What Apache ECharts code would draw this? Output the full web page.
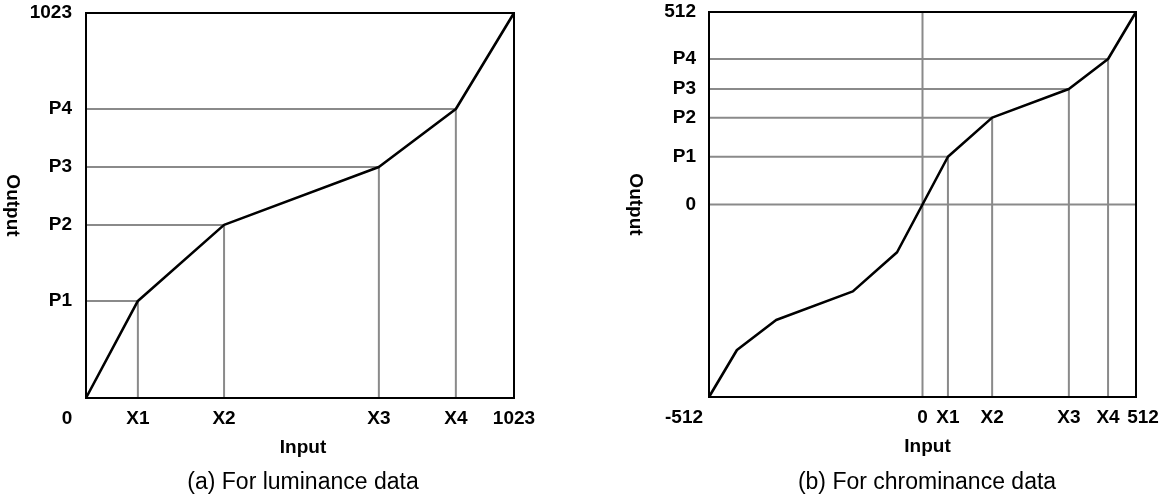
<!DOCTYPE html>
<html>
<head>
<meta charset="utf-8">
<script src="https://cdn.jsdelivr.net/npm/echarts@6/dist/echarts.min.js"></script>
<style>
html,body{margin:0;padding:0;background:#fff;}
#c{width:1173px;height:498px;}
</style>
</head>
<body>
<div id="c"></div>
<script>
// ---- Data ----
const lumaX = [0, 124, 330, 700, 884, 1023];
const lumaY = [0, 258, 460, 614, 768, 1023];
const lumaXTickValues = [0, 124, 330, 700, 884, 1023];
const lumaXTickLabels = ['0', 'X1', 'X2', 'X3', 'X4', '1023'];
const lumaYTickValues = [258, 460, 614, 768, 1023];
const lumaYTickLabels = ['P1', 'P2', 'P3', 'P4', '1023'];

const chromaX = [-512, -445, -351, -167, -61, 0, 61, 167, 351, 445, 512];
const chromaY = [-512, -387, -307, -231, -127, 0, 127, 231, 307, 387, 512];
const chromaXTickValues = [-512, 0, 61, 167, 351, 445, 512];
const chromaXTickLabels = ['-512', '0', 'X1', 'X2', 'X3', 'X4', '512'];
const chromaYTickValues = [0, 127, 231, 307, 387, 512];
const chromaYTickLabels = ['0', 'P1', 'P2', 'P3', 'P4', '512'];

// knee points used for the guide lines
const lumaKneeIdx = [1, 2, 3, 4];
const chromaKneeIdx = [6, 7, 8, 9];

const FONT = "'Liberation Sans', Arial, Helvetica, sans-serif";
const GRAY = '#8a8a8a';

function labelFmt(values, labels, special) {
  return function (v) {
    const i = values.findIndex(t => Math.abs(t - v) < 0.5);
    if (i < 0) return '';
    if (special && special[labels[i]]) return '{' + special[labels[i]] + '|' + labels[i] + '}';
    return labels[i];
  };
}

const tickFont = { fontFamily: FONT, fontSize: 19, fontWeight: 'bold', color: '#000' };
const nameFont = { fontFamily: FONT, fontSize: 19, fontWeight: 'bold', color: '#000' };

function zip(xs, ys) { return xs.map((x, i) => [x, ys[i]]); }

const series = [];
// Guide lines (gray)
lumaKneeIdx.forEach(i => {
  series.push({
    type: 'line', xAxisIndex: 0, yAxisIndex: 0, symbol: 'none', silent: true, z: 2,
    lineStyle: { color: GRAY, width: 2 },
    data: [[lumaX[0], lumaY[i]], [lumaX[i], lumaY[i]], [lumaX[i], lumaY[0]]]
  });
});
chromaKneeIdx.forEach(i => {
  series.push({
    type: 'line', xAxisIndex: 1, yAxisIndex: 1, symbol: 'none', silent: true, z: 2,
    lineStyle: { color: GRAY, width: 2 },
    data: [[chromaX[0], chromaY[i]], [chromaX[i], chromaY[i]], [chromaX[i], chromaY[0]]]
  });
});
// zero cross lines in chroma panel
series.push({
  type: 'line', xAxisIndex: 1, yAxisIndex: 1, symbol: 'none', silent: true, z: 2,
  lineStyle: { color: GRAY, width: 2 },
  data: [[0, chromaY[0]], [0, chromaY[chromaY.length - 1]]]
});
series.push({
  type: 'line', xAxisIndex: 1, yAxisIndex: 1, symbol: 'none', silent: true, z: 2,
  lineStyle: { color: GRAY, width: 2 },
  data: [[chromaX[0], 0], [chromaX[chromaX.length - 1], 0]]
});
// Curves
series.push({
  type: 'line', xAxisIndex: 0, yAxisIndex: 0, symbol: 'none', z: 5,
  lineStyle: { color: '#000', width: 2.6 },
  data: zip(lumaX, lumaY)
});
series.push({
  type: 'line', xAxisIndex: 1, yAxisIndex: 1, symbol: 'none', z: 5,
  lineStyle: { color: '#000', width: 2.6 },
  data: zip(chromaX, chromaY)
});

const chart = echarts.init(document.getElementById('c'), null, { renderer: 'canvas' });
chart.setOption({
  animation: false,
  backgroundColor: '#fff',
  grid: [
    { left: 86, top: 13, width: 428, height: 385, show: true, borderColor: '#000', borderWidth: 2, backgroundColor: 'transparent', z: 10 },
    { left: 709, top: 12, width: 427, height: 385, show: true, borderColor: '#000', borderWidth: 2, backgroundColor: 'transparent', z: 10 }
  ],
  xAxis: [
    {
      gridIndex: 0, type: 'value', min: 0, max: 1023,
      axisLine: { show: false }, axisTick: { show: false }, splitLine: { show: false },
      axisLabel: Object.assign({}, tickFont, {
        customValues: lumaXTickValues, margin: 11,
        formatter: labelFmt(lumaXTickValues, lumaXTickLabels, { '0': 'o' }),
        rich: { o: Object.assign({}, tickFont, { padding: [0, 38, 0, 0] }) }
      }),
      name: 'Input', nameLocation: 'middle', nameGap: 40,
      nameTextStyle: Object.assign({}, nameFont, { padding: [0, 0, 0, 6] })
    },
    {
      gridIndex: 1, type: 'value', min: -512, max: 512,
      axisLine: { show: false }, axisTick: { show: false }, splitLine: { show: false },
      axisLabel: Object.assign({}, tickFont, {
        customValues: chromaXTickValues, margin: 11,
        formatter: labelFmt(chromaXTickValues, chromaXTickLabels, { '-512': 'l', '512': 'r' }),
        rich: {
          l: Object.assign({}, tickFont, { padding: [0, 50, 0, 0] }),
          r: Object.assign({}, tickFont, { padding: [0, 0, 0, 14] })
        }
      }),
      name: 'Input', nameLocation: 'middle', nameGap: 40,
      nameTextStyle: Object.assign({}, nameFont, { padding: [0, 0, 0, 10] })
    }
  ],
  yAxis: [
    {
      gridIndex: 0, type: 'value', min: 0, max: 1023,
      axisLine: { show: false }, axisTick: { show: false }, splitLine: { show: false },
      axisLabel: Object.assign({}, tickFont, {
        customValues: lumaYTickValues, margin: 14,
        formatter: labelFmt(lumaYTickValues, lumaYTickLabels)
      }),
      name: 'Output', nameLocation: 'middle', nameGap: 64, nameRotate: -90,
      nameTextStyle: nameFont
    },
    {
      gridIndex: 1, type: 'value', min: -512, max: 512,
      axisLine: { show: false }, axisTick: { show: false }, splitLine: { show: false },
      axisLabel: Object.assign({}, tickFont, {
        customValues: chromaYTickValues, margin: 13,
        formatter: labelFmt(chromaYTickValues, chromaYTickLabels)
      }),
      name: 'Output', nameLocation: 'middle', nameGap: 64, nameRotate: -90,
      nameTextStyle: nameFont
    }
  ],
  title: [
    { text: '(a) For luminance data', left: 298, top: 466, textAlign: 'center',
      textStyle: { fontFamily: FONT, fontSize: 23, fontWeight: 'normal', color: '#000' } },
    { text: '(b) For chrominance data', left: 922, top: 466, textAlign: 'center',
      textStyle: { fontFamily: FONT, fontSize: 23, fontWeight: 'normal', color: '#000' } }
  ],
  series: series
});
</script>
</body>
</html>
